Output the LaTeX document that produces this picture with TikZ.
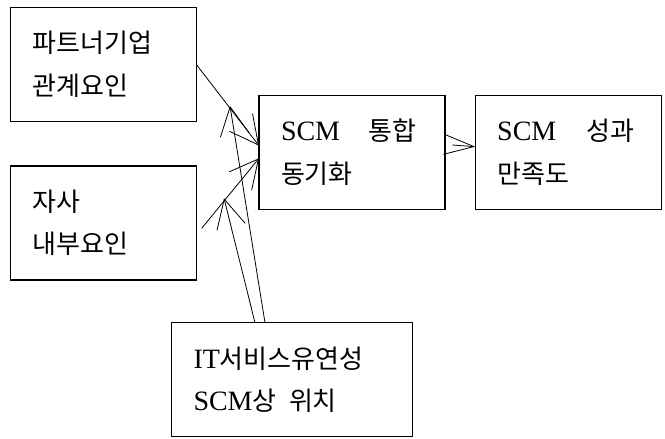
\documentclass[tikz,border=0pt]{standalone}
\usepackage{fontspec}
\setmainfont{Liberation Serif}
\newfontfamily\krfont{Noto Sans CJK KR}
\usetikzlibrary{arrows.meta,calc}
\newcommand\hk[1]{{\krfont\fontsize{26}{42.5}\selectfont #1}}
\begin{document}
\begin{tikzpicture}[x=1pt,y=-1pt,
  box/.style={draw, line width=1.1pt, fill=white, outer sep=0pt,
    minimum width=186pt, minimum height=114pt, inner xsep=22pt, inner ysep=0pt,
    text width=142pt, align=left, font=\fontsize{28}{42.5}\selectfont},
  arr/.style={line width=0.8pt, -{Straight Barb[length=28.5pt,width=29pt]}},
  arrc/.style={line width=0.8pt, -{Straight Barb[length=30pt,width=20pt]}}]
\useasboundingbox (0,0) rectangle (665,439);
\node[box] (p) at (103.7,64.5) {\mbox{\hk{파트너기업}}\\\mbox{\hk{관계요인}}};
\node[box] (s) at (103.7,223) {\hk{자사}\\\hk{내부요인}};
\node[box] (scm) at (352,152.2) {\mbox{SCM\hspace{28.5pt}\hk{통합}}\\\hk{동기화}};
\node[box] (perf) at (568.2,152.2) {\mbox{SCM\hspace{30pt}\hk{성과}}\\\hk{만족도}};
\node[box, minimum width=241pt, text width=197pt] (it) at (292,379.7)
  {\mbox{IT\hk{서비스유연성}}\\\mbox{SCM\hk{상}\hspace{12.5pt}\hk{위치}}};
\coordinate (a0) at ($(p.east)+(0,0.5)$);
\coordinate (a1) at ($(scm.west)+(0,-6.5)$);
\coordinate (b0) at ($(s.east)+(5,5.3)$);
\coordinate (b1) at ($(scm.west)+(0,6.1)$);
\coordinate (i0) at ($(it.north)+(-27,0)$);
\coordinate (i1) at (230,106);
\coordinate (j0) at ($(it.north)+(-37,0)$);
\coordinate (j1) at (224,198.3);
\coordinate (c0) at ($(scm.east)+(7.3,-7.2)$);
\coordinate (c1) at ($(perf.west)+(0,-5.5)$);
\draw[arr] (a0) -- (a1);
\draw[arr] (b0) -- (b1);
\draw[arr] (i0) -- (i1);
\draw[arr] (j0) -- (j1);
\draw[arrc] (c0) -- (c1);
\end{tikzpicture}
\end{document}
